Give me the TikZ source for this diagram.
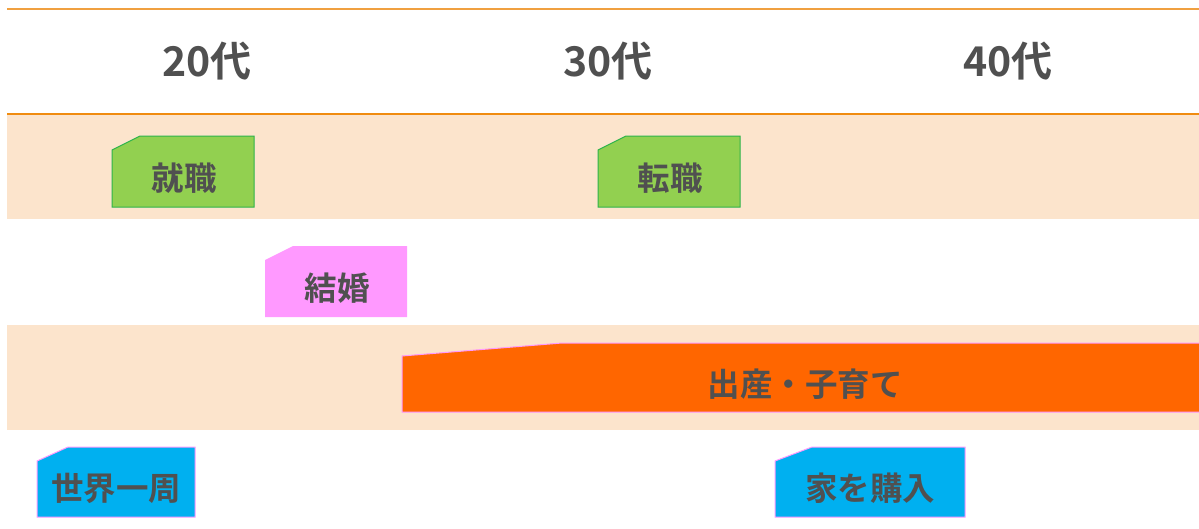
\documentclass[tikz,border=0pt]{standalone}
\usepackage{fontspec}
\newfontfamily\jpb{Noto Sans CJK JP}[BoldFont={* Bold}]
\definecolor{band}{HTML}{FCE4CC}
\definecolor{lineA}{HTML}{F0A040}
\definecolor{lineB}{HTML}{F08C10}
\definecolor{txt}{HTML}{505050}
\definecolor{grn}{HTML}{92D050}
\definecolor{grnb}{HTML}{2DB34A}
\definecolor{pnk}{HTML}{FF99FF}
\definecolor{orng}{HTML}{FF6600}
\definecolor{blu}{HTML}{00B0F0}
\tikzset{
  hdr/.style={font=\jpb\bfseries\fontsize{41}{44}\selectfont, text=txt, inner sep=0pt},
  lbl/.style={font=\jpb\bfseries\fontsize{32.5}{35}\selectfont, text=txt, inner sep=0pt},
  greenbox/.style={fill=grn, draw=grnb, line width=1pt},
  pinkbox/.style={fill=pnk},
  orangebox/.style={fill=orng, draw=pnk, line width=1pt},
  bluebox/.style={fill=blu, draw=pnk, line width=1pt}
}
\begin{document}
\begin{tikzpicture}[x=1pt,y=-1pt]
\useasboundingbox (0,0) rectangle (1199,528);
\fill[white] (0,0) rectangle (1199,528);
% bands
\fill[band] (7,115) rectangle (1199,219);
\fill[band] (7,325) rectangle (1199,430);
% lines
\draw[lineA, line width=1.2pt] (7,9) -- (1199,9);
\draw[lineB, line width=1.2pt] (7,114) -- (1199,114);
% headers
\node[hdr] (h20) at (207,61) {20代};
\node[hdr] (h30) at (608,61) {30代};
\node[hdr] (h40) at (1008,61) {40代};
% shapes
\draw[greenbox] (112,150) -- (140,136) -- (254,136) -- (254,207) -- (112,207) -- cycle;
\node[lbl] (shushoku) at (184,178) {就職};
\draw[greenbox] (598,150) -- (626,136) -- (740,136) -- (740,207) -- (598,207) -- cycle;
\node[lbl] (tenshoku) at (670,178) {転職};
\fill[pinkbox] (265,260) -- (293,246) -- (407,246) -- (407,317) -- (265,317) -- cycle;
\node[lbl] (kekkon) at (337,288) {結婚};
\draw[orangebox] (402,356) -- (562,343) -- (1205,343) -- (1205,412) -- (402,412) -- cycle;
\node[lbl] (kosodate) at (805,384) {出産・子育て};
\draw[bluebox] (37,461) -- (68,447) -- (195,447) -- (195,517) -- (37,517) -- cycle;
\node[lbl] (sekai) at (116,488) {世界一周};
\draw[bluebox] (775,461) -- (812,447) -- (965,447) -- (965,517) -- (775,517) -- cycle;
\node[lbl] (ie) at (870,488) {家を購入};
\end{tikzpicture}
\end{document}
